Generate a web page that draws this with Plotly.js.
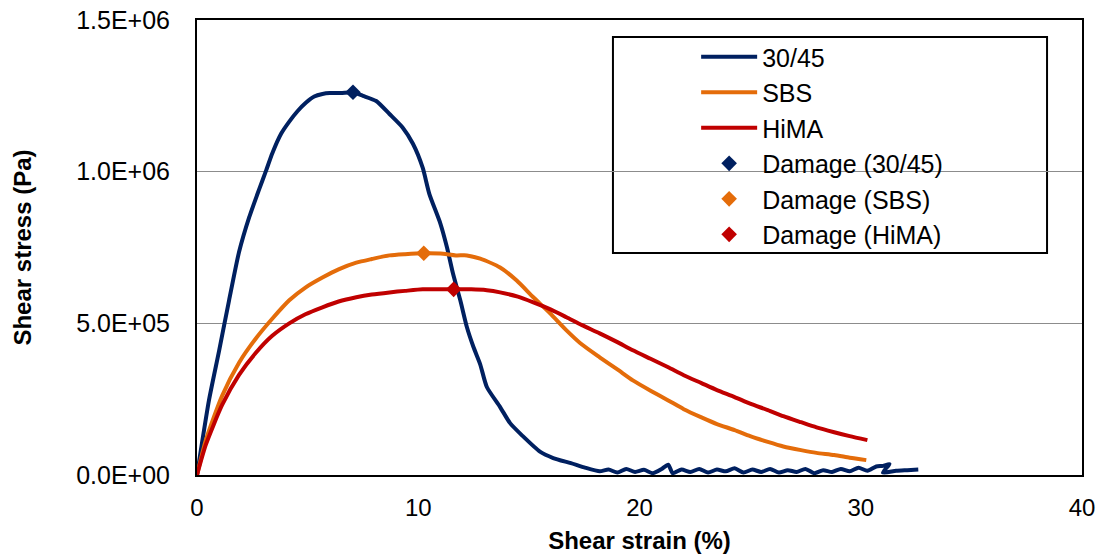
<!DOCTYPE html>
<html>
<head>
<meta charset="utf-8">
<script src="https://cdn.plot.ly/plotly-3.0.1.min.js"></script>
<style>html,body{margin:0;padding:0;background:#fff;}#chart{width:1106px;height:559px;}</style>
</head>
<body>
<div id="chart"></div>
<script>
// Shear strain (%) / shear stress (Pa, in units of 1e6)
const strain3045 = [0, 0.17, 0.54, 1.0, 1.45, 1.9, 2.36, 2.8, 3.13, 3.4, 3.8, 4.17, 4.55, 4.93, 5.3, 5.67, 6.0, 6.5, 7.05, 7.5, 8.1, 8.7, 9.3, 9.76, 10.2, 10.5, 11.0, 11.3, 11.57, 11.9, 12.2, 12.5, 12.8, 13.1, 13.7, 14.15, 14.7, 15.5, 16.1, 16.9, 17.5, 18.2,
  18.6, 19.0, 19.4, 19.8, 20.2, 20.6, 21.0, 21.3, 21.5, 21.9, 22.3, 22.7, 23.1, 23.5, 23.9, 24.3, 24.7, 25.1, 25.5, 25.9, 26.3, 26.7, 27.1, 27.5, 27.9, 28.3, 28.7, 29.1, 29.5, 29.9, 30.3, 30.7, 31.0, 31.3, 31.0, 31.6, 32.1, 32.6];
const stress3045 = [0, 0.08, 0.246, 0.41, 0.576, 0.735, 0.85, 0.94, 1.005, 1.06, 1.125, 1.165, 1.2, 1.228, 1.248, 1.256, 1.259, 1.259, 1.262, 1.25, 1.233, 1.19, 1.145, 1.092, 1.013, 0.927, 0.829, 0.75, 0.664, 0.576, 0.487, 0.421, 0.365, 0.29, 0.224, 0.171, 0.13, 0.077, 0.056, 0.039, 0.025, 0.012,
  0.018, 0.008, 0.02, 0.01, 0.017, 0.006, 0.02, 0.034, 0.006, 0.018, 0.01, 0.02, 0.008, 0.018, 0.012, 0.022, 0.008, 0.018, 0.01, 0.02, 0.008, 0.016, 0.01, 0.02, 0.006, 0.016, 0.01, 0.02, 0.012, 0.024, 0.014, 0.028, 0.03, 0.036, 0.008, 0.014, 0.016, 0.018];

const strainSBS = [0, 0.4, 1.13, 1.9, 2.66, 3.4, 4.17, 4.9, 5.67, 6.4, 7.2, 7.9, 8.7, 9.4, 10.25, 11.0, 11.7, 12.2, 12.8, 13.7, 14.45, 15.2, 15.96, 16.7, 17.4, 18.2, 19.0, 19.7, 20.5, 21.3, 22.0, 22.8, 23.5, 24.3, 25.0, 25.8, 26.5, 27.3, 28.0, 28.8, 29.5, 30.25];
const stressSBS = [0, 0.115, 0.26, 0.37, 0.45, 0.515, 0.576, 0.618, 0.651, 0.678, 0.70, 0.712, 0.724, 0.728, 0.731, 0.73, 0.724, 0.724, 0.713, 0.684, 0.641, 0.586, 0.533, 0.477, 0.43, 0.388, 0.348, 0.312, 0.278, 0.246, 0.217, 0.19, 0.168, 0.148, 0.128, 0.109, 0.094, 0.082, 0.073, 0.066, 0.057, 0.049];

const strainHiMA = [0, 0.4, 1.13, 1.9, 2.66, 3.4, 4.17, 4.9, 5.67, 6.4, 7.2, 7.9, 8.7, 9.4, 10.2, 10.9, 11.6, 12.4, 13.1, 13.7, 14.5, 15.2, 16.0, 16.7, 17.4, 18.2, 19.0, 19.7, 20.5, 21.3, 22.0, 22.8, 23.5, 24.3, 25.0, 25.8, 26.5, 27.3, 28.0, 28.8, 29.5, 30.3];
const stressHiMA = [0, 0.1, 0.23, 0.33, 0.403, 0.459, 0.50, 0.53, 0.553, 0.572, 0.586, 0.595, 0.602, 0.607, 0.612, 0.612, 0.612, 0.612, 0.609, 0.602, 0.588, 0.569, 0.545, 0.52, 0.494, 0.467, 0.438, 0.411, 0.383, 0.355, 0.329, 0.303, 0.28, 0.257, 0.235, 0.214, 0.194, 0.174, 0.157, 0.141, 0.128, 0.115];

const damageStrain = [7.05, 10.25, 11.6];
const damageStress = [1.262, 0.731, 0.612];

const seriesNames = ["30/45", "SBS", "HiMA"];
const damageNames = ["Damage (30/45)", "Damage (SBS)", "Damage (HiMA)"];
const colors = ["#002060", "#E46C0A", "#C00000"];

const yTickVals = [0, 5e5, 1e6, 1.5e6];
const yTickText = ["0.0E+00", "5.0E+05", "1.0E+06", "1.5E+06"];
const xTickVals = [0, 10, 20, 30, 40];

const scale = v => v.map(s => s * 1e6);
const strains = [strain3045, strainSBS, strainHiMA];
const stresses = [stress3045, stressSBS, stressHiMA];

const traces = [];
for (let i = 0; i < 3; i++) {
  traces.push({
    x: strains[i], y: scale(stresses[i]), type: 'scatter', mode: 'lines',
    name: seriesNames[i], line: {color: colors[i], width: 4, shape: 'spline', smoothing: 0.6}
  });
}
for (let i = 0; i < 3; i++) {
  traces.push({
    x: [damageStrain[i]], y: [damageStress[i] * 1e6], type: 'scatter', mode: 'markers',
    name: damageNames[i], marker: {color: colors[i], symbol: 'diamond', size: 12}
  });
}

const font = "Liberation Sans, Arial, sans-serif";
const layout = {
  width: 1106, height: 559,
  margin: {l: 197, r: 24, t: 20, b: 84},
  paper_bgcolor: '#fff', plot_bgcolor: '#fff',
  font: {family: font, color: '#000', size: 25},
  showlegend: true,
  legend: {
    x: 0.564, y: 0.969, xanchor: 'left', yanchor: 'top',
    bgcolor: 'rgba(0,0,0,0)', borderwidth: 0,
    font: {family: font, size: 25, color: '#000'},
    itemwidth: 56
  },
  xaxis: {
    range: [0, 40], tickvals: xTickVals, ticks: '', showgrid: false, zeroline: false,
    showline: true, mirror: true, linecolor: '#000', linewidth: 2,
    tickfont: {family: font, size: 24},
    ticklabelstandoff: 10,
    title: {text: "<b>Shear strain (%)</b>", font: {family: font, size: 24}, standoff: 12}
  },
  yaxis: {
    range: [0, 1.5e6], tickvals: yTickVals, ticktext: yTickText, ticks: '',
    showgrid: true, gridcolor: '#8c8c8c', gridwidth: 1.5, zeroline: false,
    showline: true, mirror: true, linecolor: '#000', linewidth: 2,
    tickfont: {family: font, size: 25}, ticklabelstandoff: 20,
    title: {text: "<b>Shear stress (Pa)</b>", font: {family: font, size: 24}, standoff: 38}
  },
  shapes: [{
    type: 'rect', xref: 'paper', yref: 'paper', layer: 'below',
    x0: 0.470, x1: 0.9605, y0: 0.4879, y1: 0.9626,
    line: {color: '#000', width: 2}, fillcolor: '#fff'
  }]
};

Plotly.newPlot('chart', traces, layout, {displayModeBar: false, staticPlot: true});
</script>
</body>
</html>
